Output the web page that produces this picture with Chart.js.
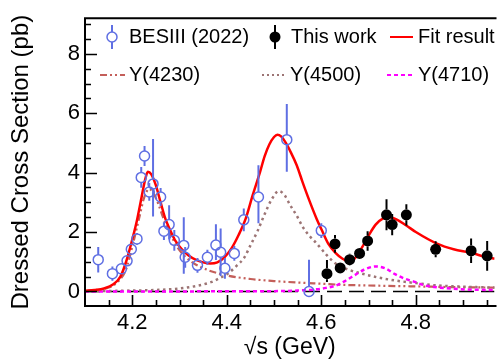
<!DOCTYPE html>
<html><head><meta charset="utf-8">
<script src="https://cdn.jsdelivr.net/npm/chart.js@4/dist/chart.umd.min.js"></script>
<style>html,body{margin:0;padding:0;background:#fff}canvas{display:block}</style>
</head><body>
<canvas id="c" width="501" height="360"></canvas>
<script>
// ---- data ----
const besE     = [4.128,4.158,4.177,4.189,4.198,4.210,4.219,4.226,4.236,4.244,4.260,4.267,4.278,4.289,4.309,4.312,4.338,4.359,4.377,4.387,4.396,4.416,4.436,4.467,4.527,4.574,4.600];
const besV     = [1.07,0.60,0.76,1.03,1.42,1.77,3.84,4.56,3.35,3.62,3.18,2.03,2.25,1.72,1.55,1.15,0.88,1.15,1.56,1.32,0.78,1.28,2.41,3.18,5.11,0.00,2.05];
const besErrLo = [0.43,0.24,0.15,0.15,0.15,0.20,0.35,0.34,0.30,1.10,0.30,0.30,0.50,0.35,0.95,0.35,0.25,0.25,0.50,0.80,0.35,0.25,0.38,0.88,1.08,0.00,0.25];
const besErrHi = [0.43,0.24,0.15,0.15,0.15,0.20,0.35,0.34,0.30,1.51,0.30,0.30,0.65,0.35,0.95,0.35,0.25,0.25,0.70,0.80,0.35,0.25,0.38,1.07,1.20,1.07,0.25];

const workE     = [4.612,4.629,4.640,4.660,4.681,4.698,4.738,4.750,4.780,4.842,4.917,4.951];
const workV     = [0.60,1.60,0.79,1.07,1.28,1.70,2.58,2.25,2.58,1.42,1.37,1.20];
const workErrLo = [0.28,0.30,0.17,0.20,0.17,0.33,0.52,0.36,0.36,0.27,0.41,0.50];
const workErrHi = [0.46,0.30,0.17,0.20,0.17,0.33,0.52,0.36,0.36,0.27,0.41,0.50];

const fitE = [4.100,4.120,4.140,4.160,4.175,4.187,4.200,4.210,4.220,4.227,4.233,4.240,4.250,4.260,4.270,4.280,4.290,4.305,4.320,4.335,4.350,4.365,4.380,4.395,4.410,4.425,4.440,4.455,4.470,4.480,4.490,4.500,4.507,4.515,4.525,4.535,4.548,4.560,4.575,4.590,4.600,4.615,4.630,4.645,4.657,4.670,4.685,4.700,4.715,4.730,4.745,4.760,4.780,4.800,4.846,4.880,4.917,4.950,4.967];
const fitV = [0.02,0.05,0.10,0.24,0.50,1.00,1.75,2.40,3.20,3.75,4.03,3.95,3.57,3.00,2.45,2.07,1.74,1.42,1.20,1.06,0.98,0.94,0.98,1.15,1.45,1.90,2.45,3.25,4.00,4.55,4.95,5.20,5.28,5.22,5.00,4.70,4.25,3.70,3.05,2.45,2.10,1.60,1.30,1.10,1.02,1.10,1.45,1.88,2.25,2.45,2.50,2.42,2.22,2.00,1.60,1.42,1.30,1.15,1.10];

const y4230E = [4.100,4.130,4.150,4.170,4.187,4.200,4.215,4.225,4.236,4.245,4.255,4.265,4.280,4.295,4.310,4.330,4.360,4.400,4.450,4.500,4.550,4.600,4.650,4.700,4.800,4.900,4.967];
const y4230V = [0.02,0.06,0.13,0.33,0.75,1.50,2.50,3.15,3.45,3.30,2.95,2.50,1.95,1.50,1.20,0.95,0.72,0.54,0.42,0.35,0.30,0.26,0.22,0.20,0.17,0.14,0.13];

const y4500E = [4.100,4.200,4.250,4.300,4.340,4.368,4.385,4.402,4.420,4.437,4.450,4.465,4.480,4.495,4.510,4.522,4.534,4.548,4.562,4.576,4.590,4.610,4.631,4.660,4.686,4.720,4.756,4.800,4.839,4.900,4.967];
const y4500V = [0.00,0.03,0.05,0.10,0.20,0.32,0.45,0.60,0.85,1.14,1.55,2.03,2.60,3.10,3.38,3.25,2.91,2.55,2.14,1.85,1.62,1.25,0.93,0.72,0.60,0.47,0.37,0.28,0.21,0.16,0.13];

const y4710E = [4.100,4.500,4.550,4.590,4.610,4.631,4.650,4.672,4.690,4.714,4.735,4.756,4.775,4.798,4.815,4.839,4.880,4.920,4.967];
const y4710V = [0.00,0.01,0.03,0.07,0.12,0.20,0.35,0.56,0.73,0.84,0.78,0.58,0.44,0.32,0.22,0.15,0.09,0.06,0.05];

const zeroE = [4.100,4.9665];
const zeroV = [0,0];

const xTickLabels = [4.2,4.4,4.6,4.8];
const yTickLabels = [0,2,4,6,8];
const legendLabels = ['BESIII (2022)','This work','Fit result','Y(4230)','Y(4500)','Y(4710)'];

// ---- styles ----
const BLUE = '#5f6fe3', RED = '#ff0000', C4230 = '#c45f5a', C4500 = '#9c7474', C4710 = '#ff00ff';
const FONT = '"Liberation Sans", Arial, Helvetica, sans-serif';

const pts = (xs, ys) => xs.map((x, i) => ({x, y: ys[i]}));

const errorBars = {
  id: 'errorBars',
  beforeDatasetDraw(chart, args) {
    const ds = chart.data.datasets[args.index];
    if (!ds.errLo) return;
    const {ctx, chartArea: a, scales: {x, y}} = chart;
    ctx.save();
    ctx.beginPath(); ctx.rect(a.left, a.top, a.right - a.left, a.bottom - a.top); ctx.clip();
    ctx.strokeStyle = ds.borderColor; ctx.lineWidth = 2;
    const r = ds.pointRadius;
    ds.data.forEach((p, i) => {
      const px = x.getPixelForValue(p.x), py = y.getPixelForValue(p.y);
      const top = y.getPixelForValue(p.y + ds.errHi[i]);
      const bot = y.getPixelForValue(p.y - ds.errLo[i]);
      ctx.beginPath();
      if (py - r > top) { ctx.moveTo(px, top); ctx.lineTo(px, py - r); }
      if (bot > py + r) { ctx.moveTo(px, py + r); ctx.lineTo(px, bot); }
      ctx.stroke();
    });
    ctx.restore();
  }
};

const frame = {
  id: 'frame',
  afterDraw(chart) {
    const {ctx, chartArea: a, scales: {x, y}} = chart;
    ctx.save();
    ctx.strokeStyle = '#000'; ctx.lineWidth = 2;
    ctx.beginPath();
    ctx.moveTo(a.right + 2, a.top); ctx.lineTo(a.left, a.top); ctx.lineTo(a.left, a.bottom); ctx.lineTo(a.right + 2, a.bottom);
    ctx.stroke();
    ctx.lineWidth = 1.6;
    ctx.beginPath();
    for (let k = 0; k <= 18; k++) {
      const v = k * 0.5;
      const py = Math.round(y.getPixelForValue(v)) + 0.5;
      const len = (k % 4 === 0) ? 12 : 6;
      ctx.moveTo(a.left, py); ctx.lineTo(a.left + len, py);
    }
    for (let k = 83; k <= 99; k++) {
      const v = k * 0.05;
      const px = Math.round(x.getPixelForValue(v)) + 0.5;
      if (px <= a.left + 1 || px > a.right) continue;
      const len = (k % 4 === 0) ? 11 : 6;
      ctx.moveTo(px, a.bottom); ctx.lineTo(px, a.bottom - len);
    }
    ctx.stroke();
    // legend
    ctx.font = '20px ' + FONT; ctx.fillStyle = '#000'; ctx.textBaseline = 'middle'; ctx.textAlign = 'left';
    const r1 = 37, r2 = 75;
    // BESIII marker
    ctx.strokeStyle = BLUE; ctx.lineWidth = 2;
    ctx.beginPath(); ctx.moveTo(112, 25); ctx.lineTo(112, r1 - 5); ctx.moveTo(112, r1 + 5); ctx.lineTo(112, 49); ctx.stroke();
    ctx.lineWidth = 1.5; ctx.beginPath(); ctx.arc(112, r1, 5, 0, 2 * Math.PI); ctx.stroke();
    ctx.fillText(legendLabels[0], 129, r1);
    // This work marker
    ctx.strokeStyle = '#000'; ctx.lineWidth = 2;
    ctx.beginPath(); ctx.moveTo(275, 25); ctx.lineTo(275, 49); ctx.stroke();
    ctx.beginPath(); ctx.arc(275, r1, 5.5, 0, 2 * Math.PI); ctx.fill();
    ctx.fillText(legendLabels[1], 291, r1);
    // fit result
    ctx.strokeStyle = RED; ctx.lineWidth = 2;
    ctx.beginPath(); ctx.moveTo(390, r1); ctx.lineTo(413, r1); ctx.stroke();
    ctx.fillText(legendLabels[2], 418, r1);
    // components
    const seg = (x0, x1, col, dash) => { ctx.strokeStyle = col; ctx.lineWidth = 2; ctx.setLineDash(dash); ctx.beginPath(); ctx.moveTo(x0, r2); ctx.lineTo(x1, r2); ctx.stroke(); ctx.setLineDash([]); };
    seg(100, 125, C4230, [7, 3, 2, 3, 2, 3]);
    ctx.fillText(legendLabels[3], 129, r2);
    seg(262, 287, C4500, [2, 3]);
    ctx.fillText(legendLabels[4], 290, r2);
    seg(387, 413, C4710, [4, 3]);
    ctx.fillText(legendLabels[5], 418, r2);
    ctx.restore();
  }
};

const curve = (label, xs, ys, color, width, dash, order) => ({
  type: 'line', label, data: pts(xs, ys), borderColor: color, borderWidth: width, borderDash: dash,
  pointRadius: 0, fill: false, cubicInterpolationMode: 'monotone', order
});

new Chart(document.getElementById('c'), {
  data: {
    datasets: [
      curve('zero', zeroE, zeroV, '#000', 1.5, [15, 7], 10),
      curve('Y(4230)', y4230E, y4230V, C4230, 2.2, [7, 3, 2, 3, 2, 3], 8),
      curve('Y(4500)', y4500E, y4500V, C4500, 2.5, [2.5, 3.5], 7),
      curve('Y(4710)', y4710E, y4710V, C4710, 2.5, [4, 3], 6),
      curve('Fit result', fitE, fitV, RED, 2.5, [], 5),
      { type: 'scatter', label: 'BESIII (2022)', data: pts(besE, besV), errLo: besErrLo, errHi: besErrHi,
        borderColor: BLUE, backgroundColor: 'rgba(0,0,0,0)', borderWidth: 1.5, pointRadius: 5, pointHoverRadius: 5, order: 3 },
      { type: 'scatter', label: 'This work', data: pts(workE, workV), errLo: workErrLo, errHi: workErrHi,
        borderColor: '#000', backgroundColor: '#000', borderWidth: 0, pointRadius: 5.5, pointHoverRadius: 5.5, order: 2 }
    ]
  },
  options: {
    responsive: false, animation: false, events: [],
    layout: { padding: { top: 13, right: 0, left: 0, bottom: 0 } },
    plugins: { legend: { display: false }, tooltip: { enabled: false } },
    scales: {
      x: {
        type: 'linear', min: 4.1, max: 4.9665,
        grid: { display: false, drawTicks: false }, border: { display: false },
        afterBuildTicks: s => { s.ticks = xTickLabels.map(v => ({ value: v })); },
        afterFit: s => { s.height = 54; },
        ticks: { autoSkip: false, maxRotation: 0, padding: 4, color: '#000', font: { family: FONT, size: 22 },
                 callback: v => Number(v).toFixed(1) },
        title: { display: true, text: '√s (GeV)', color: '#000', font: { family: FONT, size: 23, lineHeight: 1 }, padding: { top: 0, bottom: 1 } }
      },
      y: {
        type: 'linear', min: -0.49, max: 9.2,
        grid: { display: false, drawTicks: false }, border: { display: false },
        afterBuildTicks: s => { s.ticks = yTickLabels.map(v => ({ value: v })); },
        afterFit: s => { s.width = 85; },
        ticks: { autoSkip: false, padding: 5, color: '#000', font: { family: FONT, size: 22 },
                 callback: v => String(v) },
        title: { display: true, text: 'Dressed Cross Section (pb)', color: '#000', font: { family: FONT, size: 24, lineHeight: 1.2 }, padding: { top: 7, bottom: 0 } }
      }
    }
  },
  plugins: [errorBars, frame]
});
</script>
</body></html>
